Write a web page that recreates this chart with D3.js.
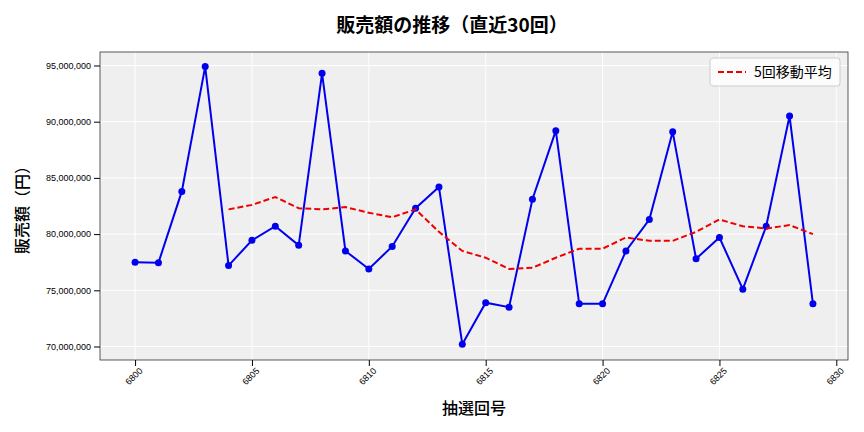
<!DOCTYPE html>
<html><head><meta charset="utf-8">
<script src="https://cdn.jsdelivr.net/npm/d3@7"></script>
<style>body{margin:0;background:#fff;font-family:"Noto Sans CJK JP","Noto Sans",sans-serif;}</style>
</head><body><div id="chart"></div>
<script>
var rounds = d3.range(6800, 6830);
var sales = [77.5,77.45,83.8,94.9,77.2,79.45,80.7,79.0,94.3,78.5,76.9,78.9,82.3,84.2,70.2,73.9,73.5,83.1,89.2,73.8,73.8,78.5,81.3,89.1,77.8,79.7,75.1,80.7,90.5,73.8];
var maRounds = d3.range(6804, 6830);
var maValues = [82.2,82.6,83.3,82.3,82.2,82.4,81.9,81.5,82.2,80.2,78.5,77.9,76.9,77.0,77.9,78.7,78.7,79.7,79.4,79.4,80.2,81.3,80.7,80.5,80.8,80.0];
var xTicks = [6800,6805,6810,6815,6820,6825,6830];
var yTicks = [70,75,80,85,90,95];

var svgWidth = 864, svgHeight = 432;
var margin = {top: 52, right: 16, bottom: 72, left: 100};
var width = svgWidth - margin.left - margin.right;
var height = svgHeight - margin.top - margin.bottom;

var svg = d3.select("#chart").append("svg")
  .attr("width", svgWidth).attr("height", svgHeight);
var g = svg.append("g").attr("transform", `translate(${margin.left},${margin.top})`);

var x = d3.scaleLinear().domain([6798.5, 6830.5]).range([0, width]);
var y = d3.scaleLinear().domain([68.8, 96.2]).range([height, 0]);

g.append("rect").attr("width", width).attr("height", height).attr("fill", "#efefef");
g.selectAll(".gx").data(xTicks).enter().append("line")
  .attr("x1", d => x(d)).attr("x2", d => x(d)).attr("y1", 0).attr("y2", height)
  .attr("stroke", "#fff").attr("stroke-width", 1);
g.selectAll(".gy").data(yTicks).enter().append("line")
  .attr("y1", d => y(d)).attr("y2", d => y(d)).attr("x1", 0).attr("x2", width)
  .attr("stroke", "#fff").attr("stroke-width", 1);
g.append("rect").attr("width", width).attr("height", height).attr("fill", "none").attr("stroke", "#333").attr("stroke-width", 0.8);

var xAxis = g.append("g").attr("transform", `translate(0,${height})`)
  .call(d3.axisBottom(x).tickValues(xTicks).tickFormat(d3.format("d")).tickSizeOuter(0));
xAxis.selectAll("text").attr("transform", "rotate(-45)").attr("text-anchor", "end")
  .attr("dx", "-0.3em").attr("dy", "0.5em").style("font-size", "9px");
var yAxis = g.append("g")
  .call(d3.axisLeft(y).tickValues(yTicks).tickFormat(d => d3.format(",")(d * 1e6)).tickSizeOuter(0));
yAxis.selectAll("text").style("font-size", "9px");
g.selectAll(".domain").remove();

g.append("path").datum(sales)
  .attr("fill", "none").attr("stroke", "#0000ee").attr("stroke-width", 2)
  .attr("d", d3.line().x((d, i) => x(rounds[i])).y(d => y(d)));
g.selectAll(".pt").data(sales).enter().append("circle")
  .attr("cx", (d, i) => x(rounds[i])).attr("cy", d => y(d)).attr("r", 3.5).attr("fill", "#0000ee");
g.append("path").datum(maValues)
  .attr("fill", "none").attr("stroke", "#ee0000").attr("stroke-width", 2).attr("stroke-dasharray", "6,3")
  .attr("d", d3.line().x((d, i) => x(maRounds[i])).y(d => y(d)));

var lg = g.append("g").attr("transform", `translate(${width - 138},6)`);
lg.append("rect").attr("width", 130).attr("height", 28).attr("rx", 3)
  .attr("fill", "#fff").attr("fill-opacity", 0.8).attr("stroke", "#ccc");
lg.append("line").attr("x1", 8).attr("x2", 36).attr("y1", 14).attr("y2", 14)
  .attr("stroke", "#ee0000").attr("stroke-width", 2).attr("stroke-dasharray", "6,3");
lg.append("text").attr("x", 44).attr("y", 19).style("font-size", "14px").text("5回移動平均");

svg.append("text").attr("x", svgWidth / 2 + 20).attr("y", 32).attr("text-anchor", "middle")
  .style("font-size", "19px").style("font-weight", "bold").text("販売額の推移（直近30回）");
svg.append("text").attr("x", margin.left + width / 2).attr("y", 414).attr("text-anchor", "middle")
  .style("font-size", "16px").style("font-weight", "500").text("抽選回号");
svg.append("text").attr("transform", "rotate(-90)").attr("x", -(margin.top + height / 2)).attr("y", 28)
  .attr("text-anchor", "middle").style("font-size", "16px").style("font-weight", "500").text("販売額（円）");
</script></body></html>
